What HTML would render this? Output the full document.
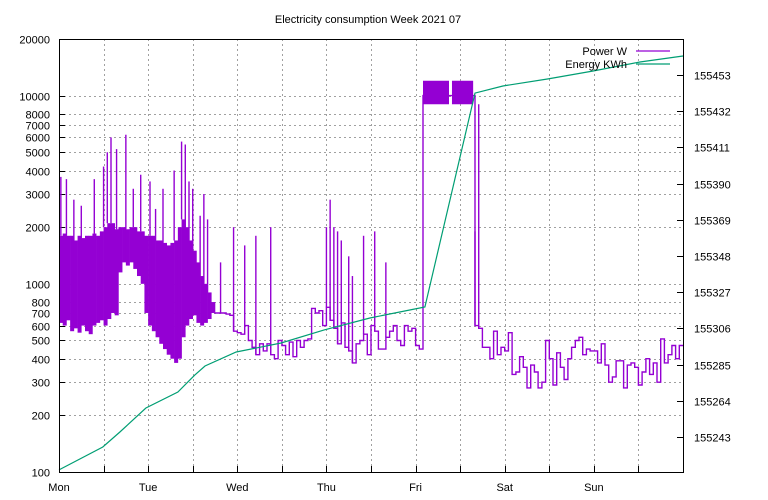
<!DOCTYPE html>
<html><head><meta charset="utf-8">
<style>
html,body{margin:0;padding:0;background:#fff;}
svg{display:block;font-family:"Liberation Sans",sans-serif;font-size:11px;}
</style></head>
<body>
<svg id="chart" width="768" height="500" viewBox="0 0 768 500">
<rect x="0" y="0" width="768" height="500" fill="#fff"/>
<text x="368" y="23" text-anchor="middle">Electricity consumption Week 2021 07</text>
<g id="grid"></g>
<g id="ticks"></g>
<g id="series"></g>
<rect x="59.5" y="39.5" width="624" height="433" fill="none" stroke="#000" stroke-width="1"/>
<g>
<text x="627" y="55" text-anchor="end">Power W</text>
<line x1="636" y1="51" x2="670" y2="51" stroke="#9400d3" stroke-width="1.2"/>
<text x="627" y="68" text-anchor="end">Energy KWh</text>
<line x1="636" y1="64" x2="670" y2="64" stroke="#009e73" stroke-width="1.2"/>
</g>
</svg>
<script>
const dayLabels = ["Mon","Tue","Wed","Thu","Fri","Sat","Sun"];
const leftTicks = [100,200,300,400,500,600,700,800,1000,2000,3000,4000,5000,6000,7000,8000,10000,20000];
const rightTicks = [155243,155264,155285,155306,155327,155348,155369,155390,155411,155432,155453];
// dense band (hours 0..41): min / max of fast-changing power
const bandLo = [620,600,640,560,580,550,600,560,540,600,620,640,600,650,700,680,1150,1300,1250,1300,1200,1100,1000,700,600,560,520,480,450,420,400,380,400,520,600,650,680,620,600,620,650,700];
const bandHi = [1800,1850,1800,1800,1700,1800,1750,1800,1800,1850,1800,1900,2000,2100,2100,1950,2000,2000,1950,2000,2000,1900,1900,1800,1800,1800,1700,1700,1650,1600,1650,1700,2000,2200,2000,1700,1500,1300,1100,1000,900,800];
// hourly power from hour 42 onward
const powerStart = 42;
const powerValues = [700,700,700,690,680,560,550,540,600,500,460,420,480,440,480,420,400,500,470,420,490,410,500,460,500,510,740,700,720,600,750,640,580,480,620,460,440,380,480,500,540,420,600,560,450,450,520,560,600,500,470,600,560,580,470,450,
10000,10000,10000,10000,10000,10000,10000,10000,10000,10000,10000,10000,10000,10000,
600,580,460,460,400,560,420,460,440,550,330,340,410,360,280,370,340,280,300,500,400,290,430,360,310,400,460,500,520,420,450,440,440,380,480,370,300,320,390,390,280,370,380,360,290,340,400,330,380,300,510,380,420,470,400,470];
// solid blocks [startHour, endHour, low, high]
const blocks = [[98,105,9000,12000],[105.8,111.5,9000,12000]];
// short spikes [hour, peak]
const spikeHours = [0.5,2,4,6,9.5,12,13,14,15.5,18,20,22,24.5,26,28,31,33,34,35,36,38,39,40,43.5,47,50,53,57,72,73,74,75,76,78,79,82,85,88,104,112,113];
const spikePeaks = [3700,3600,2800,2600,3600,4200,5000,6000,5200,6200,3200,3800,3500,2500,3200,4000,5700,5500,3500,3200,2300,3000,2200,1300,2000,1600,1800,2000,2000,2800,2000,1900,1700,1400,1100,1800,1900,1300,7000,1900,9000];
const energyHours = [0,11.8,16.4,23.4,32,36.6,39.3,47.7,59.8,71.4,83.7,95.6,98.5,112,119.5,131.7,143.8,156.4,168];
const energyKwh = [155223.9,155237.2,155245.9,155259.8,155269.1,155279.0,155284.2,155292.3,155297.5,155305.1,155312.0,155317.2,155318.4,155442.5,155446.6,155450.7,155455.3,155460.5,155464.0];

const NS="http://www.w3.org/2000/svg";
const X0=59, X1=683, Y0=472, Y1=39;
const xs = h => X0 + h*(X1-X0)/168;
const ys = v => Y0 - (Math.log10(v)-2)*(Y0-Y1)/Math.log10(200);
const RMIN=155243-(35/1.724), RMAX=155243+(398/1.724);
const yr = v => Y0 - (v-RMIN)*(Y0-Y1)/(RMAX-RMIN);
function mk(tag, attrs, parent){const e=document.createElementNS(NS,tag);for(const k in attrs)e.setAttribute(k,attrs[k]);parent.appendChild(e);return e;}
const grid=document.getElementById('grid'), ticks=document.getElementById('ticks'), series=document.getElementById('series');
const gs={stroke:"#a0a0a0","stroke-width":1,"stroke-dasharray":"2,3"};

for(let i=1;i<14;i++){
  const x=Math.round(xs(i*12))+0.5;
  const l=mk('line',Object.assign({x1:x,y1:Y1,x2:x,y2:Y0},gs),grid);
  
  
  const t=mk('line',{x1:x,y1:Y0,x2:x,y2:Y0-6,stroke:"#000"},ticks);
  
  
}
dayLabels.forEach((d,i)=>{
  const t=mk('text',{x:xs(i*24),y:491,"text-anchor":"middle"},ticks);
  t.textContent=d;
  
  
});
leftTicks.forEach(v=>{
  const y=Math.round(ys(v))+0.5;
  if(v!==100&&v!==20000){
    const l=mk('line',Object.assign({x1:X0,y1:y,x2:X1,y2:y},gs),grid);
    
    
  }
  const t=mk('line',{x1:X0,y1:y,x2:X0+6,y2:y,stroke:"#000"},ticks);
  
  
  const tx=mk('text',{x:X0-9,y:y+4,"text-anchor":"end"},ticks);
  tx.textContent=v;
  
  
});
rightTicks.forEach(v=>{
  const y=Math.round(yr(v))+0.5;
  const t=mk('line',{x1:X1-6,y1:y,x2:X1,y2:y,stroke:"#000"},ticks);
  
  
  const tx=mk('text',{x:X1+11,y:y+4,"text-anchor":"start"},ticks);
  tx.textContent=v;
  
  
});

const PC="#9400d3";
bandLo.forEach((lo,h)=>{
  const r=mk('rect',{x:xs(h),y:ys(bandHi[h]),width:xs(h+1)-xs(h)+0.3,height:ys(lo)-ys(bandHi[h]),fill:PC},series);
  
  
});
blocks.forEach(b=>{
  const r=mk('rect',{x:xs(b[0]),y:ys(b[3]),width:xs(b[1])-xs(b[0]),height:ys(b[2])-ys(b[3]),fill:PC},series);
  
  
});
let d="M"+xs(powerStart)+","+ys(bandLo[bandLo.length-1]);
powerValues.forEach((v,i)=>{
  const h=powerStart+i;
  d+=" V"+ys(v).toFixed(1)+" H"+xs(h+1).toFixed(1);
});
const p=mk('path',{d:d,fill:"none",stroke:PC,"stroke-width":1.4},series);


spikeHours.forEach((h,i)=>{
  const hi=Math.floor(h);
  const base = hi<bandLo.length ? bandHi[hi] : powerValues[Math.min(hi-powerStart,powerValues.length-1)];
  const l=mk('line',{x1:xs(h),y1:ys(Math.min(base,spikePeaks[i])),x2:xs(h),y2:ys(spikePeaks[i]),stroke:PC,"stroke-width":1.4},series);
  
  
});
const ep=energyHours.map((h,i)=>xs(h).toFixed(1)+","+yr(energyKwh[i]).toFixed(1)).join(" ");
const e=mk('polyline',{points:ep,fill:"none",stroke:"#009e73","stroke-width":1.2},series);


</script>
</body></html>
